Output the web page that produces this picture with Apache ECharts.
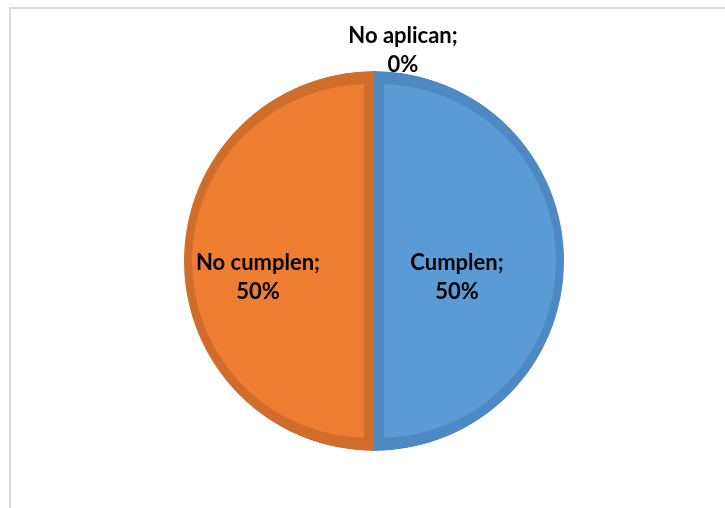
<!DOCTYPE html>
<html>
<head>
<meta charset="utf-8">
<script src="https://cdn.jsdelivr.net/npm/echarts@6/dist/echarts.min.js"></script>
<style>
  html, body { margin: 0; padding: 0; background: #ffffff; }
  #chart { width: 725px; height: 508px; }
</style>
</head>
<body>
<div id="chart"></div>
<script>
// Categories and their shares
const categories = ['Cumplen', 'No cumplen', 'No aplican'];
const values = [50, 50, 0];

// Slice fill and edge colours
const fillColors = ['#5b9bd5', '#ed7d31', '#a5a5a5'];
const edgeColors = ['#4f89c3', '#d06d2b', '#8f8f8f'];

const CENTER = [374, 261];
const OUTER = 190;      // outer radius of the pie
const INNER = 182;      // radius of the lighter slice bodies
const EDGE = 10;        // width of the darker slice rim

const chart = echarts.init(document.getElementById('chart'), null, { renderer: 'canvas' });

const labelFont = {
  fontFamily: 'Lato',
  fontWeight: 'bold',
  fontSize: 22,
  lineHeight: 29,
  color: '#000000'
};

// Per-slice label nudges
const labelShift = [
  { dx: -16, dy: 16 },
  { dx: -17, dy: 16 },
  { dx: 29, dy: -117 }
];

const baseData = categories.map((name, i) => ({
  name, value: values[i],
  itemStyle: { color: edgeColors[i] }
}));

const bodyData = categories.map((name, i) => ({
  name, value: values[i],
  selected: values[i] > 0,
  itemStyle: { color: fillColors[i], borderColor: edgeColors[i], borderWidth: values[i] > 0 ? EDGE : 0, borderJoin: 'miter' }
}));

const labelData = categories.map((name, i) => ({
  name, value: values[i],
  selected: values[i] > 0,
  itemStyle: { color: 'rgba(0,0,0,0)', borderWidth: 0 }
}));

const option = {
  animation: false,
  backgroundColor: '#ffffff',
  graphic: [{
    type: 'rect',
    silent: true,
    shape: { x: 10, y: 8, width: 760, height: 560 },
    style: { fill: 'none', stroke: '#d9d9d9', lineWidth: 2 },
    z: 0
  }],
  series: [
    {
      // darker disc underneath: gives the rim colour
      type: 'pie', center: CENTER, radius: OUTER,
      startAngle: 90, clockwise: true, silent: true,
      label: { show: false }, labelLine: { show: false },
      data: baseData, z: 1
    },
    {
      // lighter slice bodies, pulled apart by half the rim width
      type: 'pie', center: CENTER, radius: INNER,
      startAngle: 90, clockwise: true, silent: true,
      selectedMode: 'multiple', selectedOffset: EDGE / 2,
      label: { show: false }, labelLine: { show: false },
      emphasis: { disabled: true },
      data: bodyData, z: 2
    },
    {
      // white ring trimming the outline back to a true circle
      type: 'pie', center: CENTER, radius: [OUTER, OUTER + 20],
      silent: true, label: { show: false }, labelLine: { show: false },
      data: [{ value: 1, itemStyle: { color: '#ffffff' } }], z: 3
    },
    {
      // data labels
      type: 'pie', center: CENTER, radius: INNER,
      startAngle: 90, clockwise: true, silent: true,
      selectedMode: 'multiple', selectedOffset: EDGE / 2,
      label: Object.assign({ show: true, position: 'inside', formatter: '{b};\n{d}%' }, labelFont),
      labelLine: { show: false },
      labelLayout: (p) => labelShift[p.dataIndex],
      emphasis: { disabled: true },
      data: labelData, z: 4
    }
  ]
};

chart.setOption(option);
</script>
</body>
</html>
